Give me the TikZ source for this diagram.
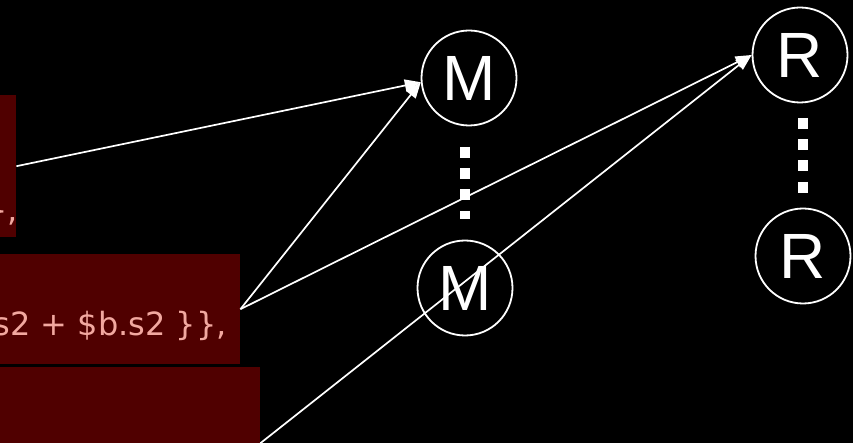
\documentclass[tikz,border=0pt]{standalone}
\usepackage{fontspec}
\setmainfont{Liberation Sans}
\newfontfamily\codefont{DejaVu Sans}
\usetikzlibrary{arrows.meta}

\definecolor{codebg}{RGB}{80,0,0}
\definecolor{codefg}{RGB}{242,168,160}

\begin{document}
\begin{tikzpicture}[x=1pt, y=-1pt,
%every node/.style={draw},
every node/.style={inner sep=0pt, text=white},
codebox/.style={fill=codebg, anchor=north west},
codetext/.style={text=codefg, anchor=base east, font=\codefont\fontsize{32}{38}\selectfont},
task/.style={circle, draw=white, line width=1.8pt, minimum size=95pt, font=\fontsize{64}{70}\selectfont},
flow/.style={draw=white, line width=1.7pt, -{Triangle[length=16pt,width=12pt]}},
more/.style={draw=white, line width=10.5pt, dash pattern=on 11pt off 10.3pt}
]
\useasboundingbox (0,0) rectangle (853,443);
\fill[black] (0,0) rectangle (853,443);
\clip (0,0) rectangle (853,443);

% code fragments on the left
\node[codebox, minimum width=36pt, minimum height=142pt] (c1) at (-20,95) {};
\node[codebox, minimum width=260pt, minimum height=110pt] (c2) at (-20,254) {};
\node[codebox, minimum width=280pt, minimum height=152pt] (c3) at (-20,367) {};
\node[codetext] (t1) at (18,222) {\},};
\node[codetext] (t2) at (227,335) {s2 + \$b.s2 \}\},};

% map and reduce tasks
\node[task] (m1) at (469,78) {M};
\node[task] (m2) at (465,288) {M};
\node[task] (r1) at (800,55) {R};
\node[task] (r2) at (803,256) {R};

\foreach \a/\b/\s in {m1/m2/20.5, r1/r2/14.5}
    \draw[more, shorten <=\s pt, shorten >=\s pt] (\b.north |- \a.south) -- (\b.north);

\foreach \i/\j in {c1/m1.185, c2/m1.185,
                   c2/r1.west, c3/r1.west%
            }
    \draw[flow] (\i.east) -- (\j);

\end{tikzpicture}
\end{document}
